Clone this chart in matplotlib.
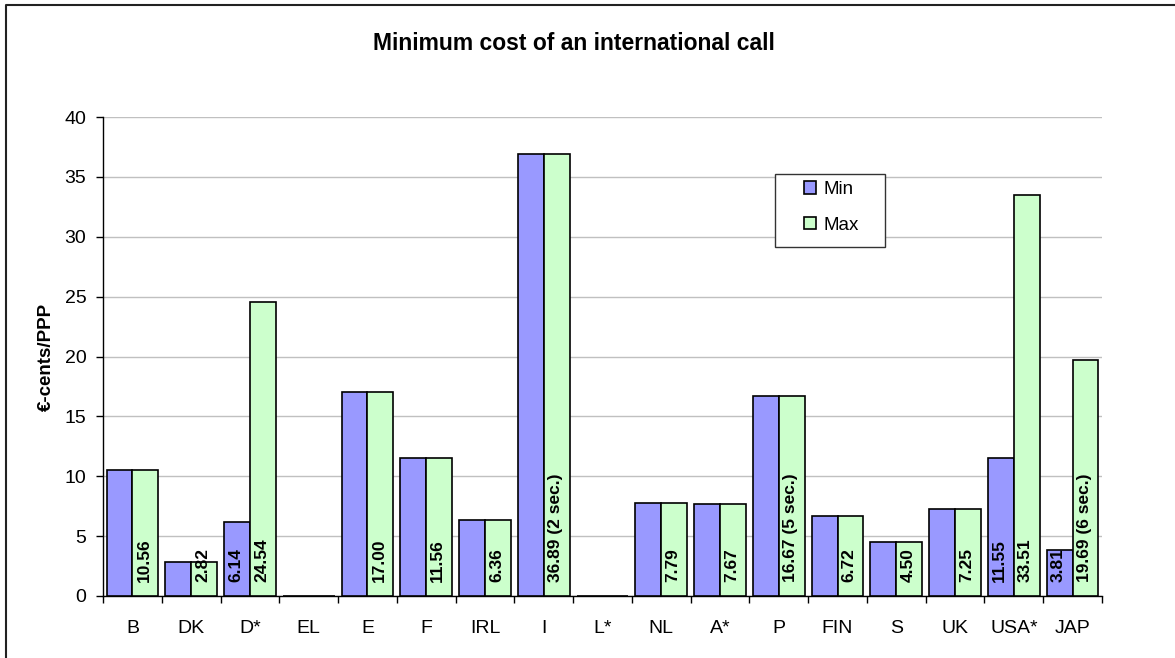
import numpy as np
import matplotlib.pyplot as plt
from matplotlib.lines import Line2D
from matplotlib.patches import Rectangle

plt.rcParams['font.family'] = ['Liberation Sans', 'DejaVu Sans']

# data
countries = ['B', 'DK', 'D*', 'EL', 'E', 'F', 'IRL', 'I', 'L*', 'NL', 'A*', 'P',
             'FIN', 'S', 'UK', 'USA*', 'JAP']
min_vals = [10.56, 2.82, 6.14, np.nan, 17.00, 11.56, 6.36, 36.89, np.nan, 7.79, 7.67,
            16.67, 6.72, 4.50, 7.25, 11.55, 3.81]
max_vals = [10.56, 2.82, 24.54, np.nan, 17.00, 11.56, 6.36, 36.89, np.nan, 7.79, 7.67,
            16.67, 6.72, 4.50, 7.25, 33.51, 19.69]
# labels written in the bars ('' = none)
min_labels = ['', '', '6.14', '', '', '', '', '', '', '', '', '', '', '', '', '11.55', '3.81']
max_labels = ['10.56', '2.82', '24.54', '', '17.00', '11.56', '6.36', '36.89 (2 sec.)', '',
              '7.79', '7.67', '16.67 (5 sec.)', '6.72', '4.50', '7.25', '33.51',
              '19.69 (6 sec.)']

W, H = 1175, 658
fig = plt.figure(figsize=(W / 100, H / 100), dpi=100)
# chart frame (only top and left edges are inside the picture)
fig.lines.append(Line2D([6 / W, 6 / W, 1], [0, 1 - 5 / H, 1 - 5 / H],
                        transform=fig.transFigure, color='#222222', linewidth=1.5))

ax = fig.add_axes([103 / W, 62 / H, 999 / W, 479 / H])

x = np.arange(len(countries))
w = 0.44
ax.bar(x - w / 2, np.nan_to_num(min_vals), w, color='#9999FF', edgecolor='black',
       linewidth=1.2, label='Min', zorder=3)
ax.bar(x + w / 2, np.nan_to_num(max_vals), w, color='#CCFFCC', edgecolor='black',
       linewidth=1.2, label='Max', zorder=3)

for i in range(len(countries)):
    if min_labels[i]:
        ax.annotate(min_labels[i], (x[i] - w / 2, 0), xytext=(-1, 10),
                    textcoords='offset points', rotation=90, ha='center', va='bottom',
                    fontsize=12.5, fontweight='bold', zorder=4)
    if max_labels[i]:
        ax.annotate(max_labels[i], (x[i] + w / 2, 0), xytext=(-1, 10),
                    textcoords='offset points', rotation=90, ha='center', va='bottom',
                    fontsize=12.5, fontweight='bold', zorder=4)

ax.set_xlim(-0.5, len(countries) - 0.5)
ax.set_ylim(0, 40)
ax.set_yticks(np.arange(0, 41, 5))
ax.yaxis.grid(True, color='#c0c0c0', linewidth=1.0, zorder=0)
ax.set_axisbelow(True)

ax.set_xticks(np.arange(-0.5, len(countries), 1))
ax.set_xticklabels([])
ax.set_xticks(x, minor=True)
ax.set_xticklabels(countries, minor=True)
ax.tick_params(axis='x', which='minor', length=0, pad=17, labelsize=14)
ax.tick_params(axis='x', which='major', length=5, width=1)
ax.tick_params(axis='y', length=5, width=1, pad=7, labelsize=14)

for s in ['top', 'right']:
    ax.spines[s].set_visible(False)
for s in ['left', 'bottom']:
    ax.spines[s].set_linewidth(1.0)

ax.set_ylabel('€-cents/PPP', fontsize=13.5, fontweight='bold', labelpad=7)

fig.text(574 / W, 1 - 43 / H, 'Minimum cost of an international call',
         ha='center', va='center', fontsize=16.5, fontweight='bold')

# legend: frame drawn separately so padding can differ per side
ax.add_patch(Rectangle(((775 - 103) / 999, (596 - 247) / 479), 110 / 999, 73 / 479,
                       transform=ax.transAxes, facecolor='white', edgecolor='#333333',
                       linewidth=1.0, zorder=5))
leg = ax.legend(loc='upper left', bbox_to_anchor=((804 - 103) / 999, (596 - 181) / 479),
                fontsize=13.5, frameon=False, handlelength=0.64, handleheight=0.64,
                handletextpad=0.4, labelspacing=1.0, borderpad=0, borderaxespad=0)
leg.set_zorder(6)

plt.savefig('out.png', dpi=100)
